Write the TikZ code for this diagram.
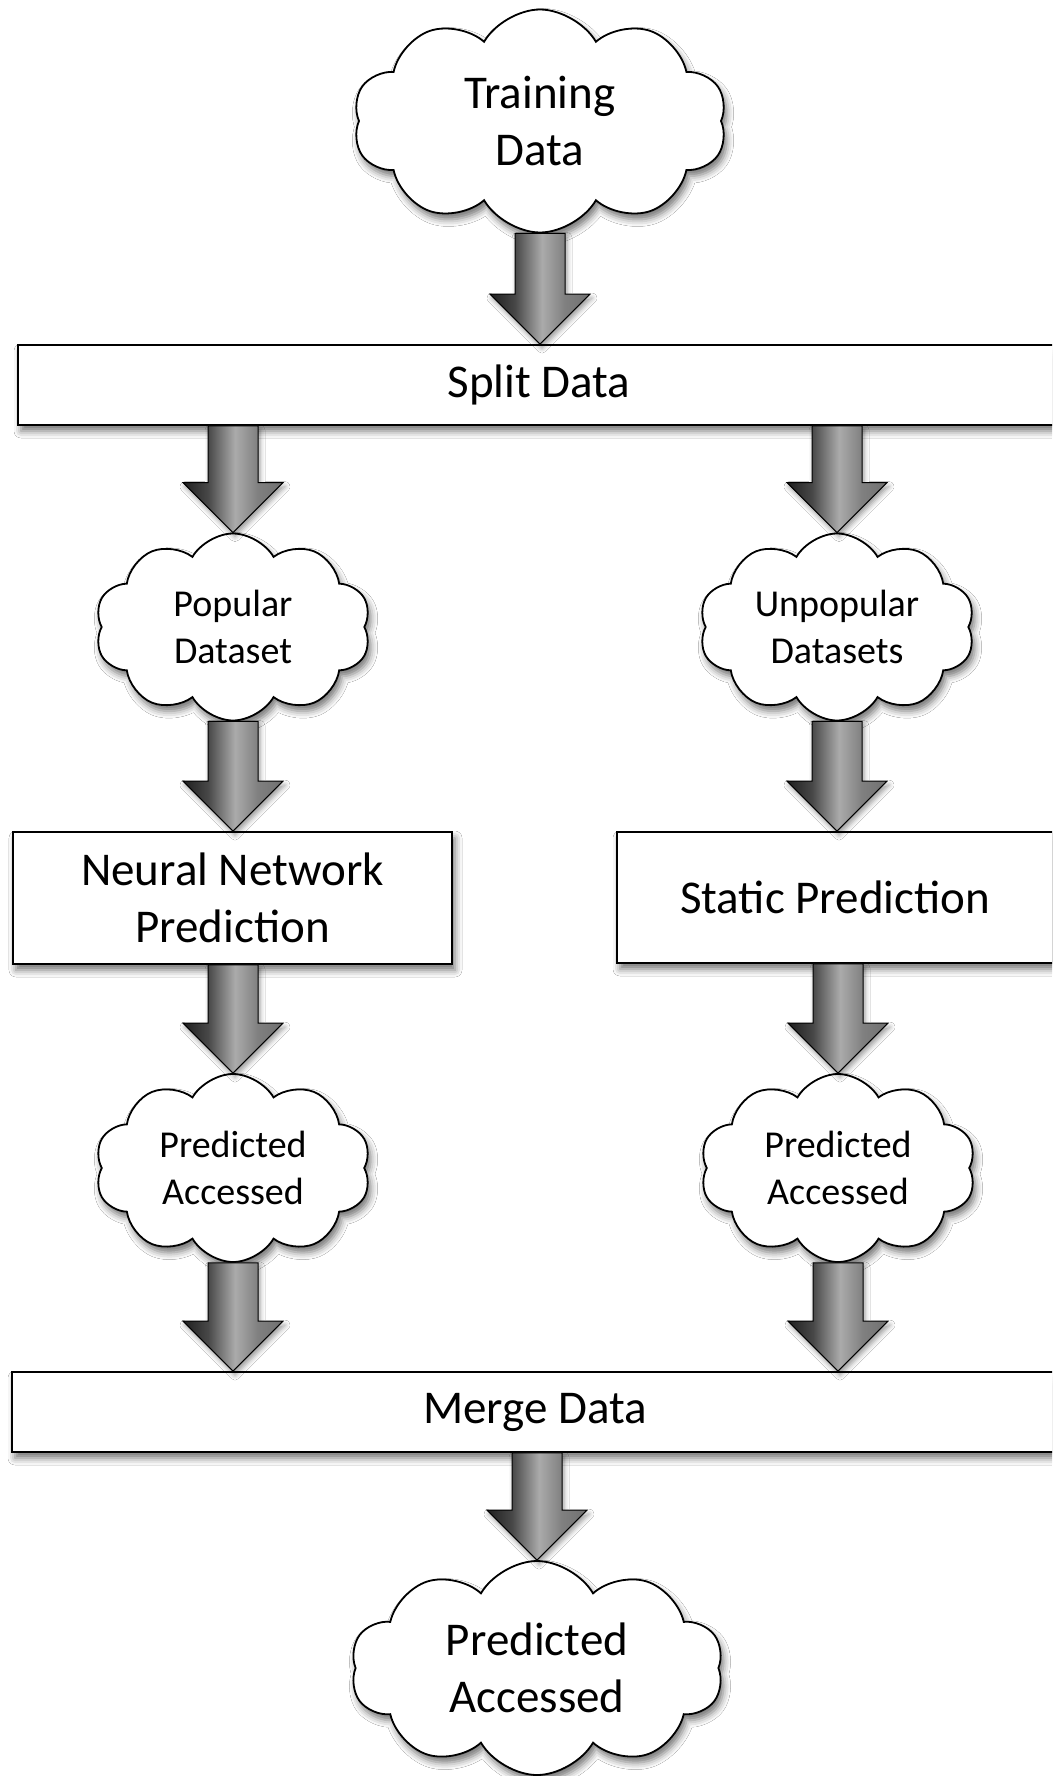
\documentclass[tikz,border=0pt]{standalone}
\usepackage{fontspec}
\setmainfont{Carlito}
\usetikzlibrary{shapes.symbols,shadows.blur,calc}

% grey bevel used by the block arrows (dark left, light just right of centre)
\pgfdeclarehorizontalshading{arrowgray}{100bp}{%
  color(0bp)=(black!90); color(25bp)=(black!88); color(37.5bp)=(black!72);
  color(51bp)=(black!33); color(62.5bp)=(black!50); color(75bp)=(black!56);
  color(100bp)=(black!56)}

% block arrow from the point #1 (top of shaft) down to the tip #2
\newcommand\blockarr[2]{%
  \path[blockarrow] let \p1=#1, \p2=#2 in
    (\x1-25pt,\y1) -- (\x1+25pt,\y1) -- (\x1+25pt,\y2+50pt) --
    (\x1+50pt,\y2+50pt) -- (\x1,\y2) -- (\x1-50pt,\y2+50pt) --
    (\x1-25pt,\y2+50pt) -- cycle;}

\begin{document}
\begin{tikzpicture}[x=1pt,y=-1pt,
  every node/.style={font=\fontsize{47}{57}\selectfont, align=center, text=black},
  softshadow/.style={blur shadow={shadow xshift=3pt, shadow yshift=-6pt,
      shadow blur radius=7pt, shadow opacity=55}},
  stepbox/.style={rectangle, draw=black, line width=1.8pt, fill=white,
      inner sep=0pt, softshadow},
  puff/.style={cloud, cloud puffs=10, cloud puff arc=120, cloud ignores aspect,
      draw=black, line width=1.8pt, fill=white, inner sep=0pt, softshadow},
  small/.style={font=\fontsize{38}{47}\selectfont},
  blockarrow/.style={draw=black, line width=1pt, shade, shading=arrowgray,
      blur shadow={shadow xshift=2pt, shadow yshift=-4pt,
      shadow blur radius=5pt, shadow opacity=40}}
]
\fill[white] (0,0) rectangle (1052,1776);
\useasboundingbox (0,0) rectangle (1052,1776);
\clip (0,0) rectangle (1052,1776);

% nodes
\node[puff, minimum width=374pt, minimum height=223pt] (train) at (540,121) {Training\\Data};
\node[stepbox, minimum width=1042pt, minimum height=80pt] (split) at (539,385) {Split Data};

\node[puff, small, minimum width=276pt, minimum height=187pt] (pop) at (233,627) {Popular\\Dataset};
\node[puff, small, minimum width=276pt, minimum height=187pt] (unpop) at (837,627) {Unpopular\\Datasets};

\node[stepbox, minimum width=439pt, minimum height=132pt] (nn) at (232.5,898) {Neural Network\\Prediction};
\node[stepbox, minimum width=436pt, minimum height=131pt] (static) at (835,897.5) {Static Prediction};

\node[puff, small, minimum width=276pt, minimum height=188pt] (predL) at (233,1168) {Predicted\\Accessed};
\node[puff, small, minimum width=276pt, minimum height=188pt] (predR) at (838,1168) {Predicted\\Accessed};

\node[stepbox, minimum width=1046pt, minimum height=80pt] (merge) at (535,1412) {Merge Data};
\node[puff, minimum width=373pt, minimum height=214pt] (final) at (537,1668) {Predicted\\Accessed};

% connectors
\blockarr{(train.south)}{(split.north -| train)}
\blockarr{(split.south -| pop)}{(pop.north)}
\blockarr{(split.south -| unpop)}{(unpop.north)}
\blockarr{(pop.south)}{(nn.north -| pop)}
\blockarr{(unpop.south)}{(static.north -| unpop)}
\blockarr{(nn.south -| predL)}{(predL.north)}
\blockarr{(static.south -| predR)}{(predR.north)}
\blockarr{(predL.south)}{(merge.north -| predL)}
\blockarr{(predR.south)}{(merge.north -| predR)}
\blockarr{(merge.south -| final)}{(final.north)}
\end{tikzpicture}
\end{document}
